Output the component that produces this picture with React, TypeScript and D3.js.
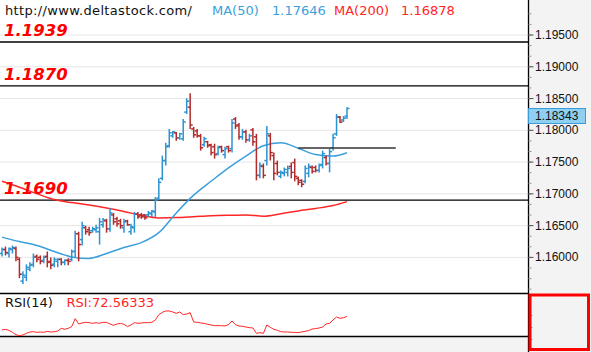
import React from 'react';
import * as d3 from 'd3';

// price bars: [open, high, low, close]
const bars: [number, number, number, number][] = [
  [1.16062, 1.16155, 1.16016, 1.16124], [1.16124, 1.16171, 1.16031, 1.16077],
  [1.16062, 1.16155, 1.16000, 1.16140], [1.16124, 1.16186, 1.16062, 1.16155],
  [1.16140, 1.16171, 1.15938, 1.16000], [1.15969, 1.16000, 1.15673, 1.15735],
  [1.15627, 1.15782, 1.15580, 1.15720], [1.15689, 1.15891, 1.15627, 1.15844],
  [1.15813, 1.15922, 1.15782, 1.15876], [1.15891, 1.16062, 1.15844, 1.16000],
  [1.16016, 1.16047, 1.15922, 1.15969], [1.16000, 1.16031, 1.15891, 1.15938],
  [1.15953, 1.16031, 1.15907, 1.16000], [1.16016, 1.16093, 1.15844, 1.15922],
  [1.15938, 1.16000, 1.15813, 1.15876], [1.15891, 1.16000, 1.15844, 1.15969],
  [1.15938, 1.15985, 1.15844, 1.15969], [1.15969, 1.15985, 1.15876, 1.15922],
  [1.15922, 1.15969, 1.15876, 1.15953], [1.15953, 1.15985, 1.15876, 1.15938],
  [1.15969, 1.16124, 1.15938, 1.16093], [1.16093, 1.16420, 1.16000, 1.16373],
  [1.16373, 1.16404, 1.15938, 1.16202], [1.16280, 1.16560, 1.16186, 1.16498],
  [1.16467, 1.16498, 1.16358, 1.16404], [1.16435, 1.16482, 1.16342, 1.16389],
  [1.16420, 1.16482, 1.16389, 1.16451], [1.16435, 1.16513, 1.16389, 1.16467],
  [1.16404, 1.16622, 1.16202, 1.16560], [1.16513, 1.16622, 1.16467, 1.16591],
  [1.16575, 1.16607, 1.16389, 1.16451], [1.16451, 1.16778, 1.16404, 1.16700],
  [1.16669, 1.16700, 1.16513, 1.16560], [1.16607, 1.16638, 1.16482, 1.16529],
  [1.16575, 1.16607, 1.16451, 1.16498], [1.16467, 1.16607, 1.16389, 1.16560],
  [1.16575, 1.16591, 1.16498, 1.16513], [1.16404, 1.16529, 1.16358, 1.16482],
  [1.16467, 1.16716, 1.16389, 1.16684], [1.16684, 1.16716, 1.16607, 1.16638],
  [1.16669, 1.16700, 1.16607, 1.16638], [1.16669, 1.16684, 1.16591, 1.16622],
  [1.16669, 1.16731, 1.16638, 1.16700], [1.16684, 1.16747, 1.16638, 1.16731],
  [1.16716, 1.16949, 1.16638, 1.16902], [1.16933, 1.17244, 1.16902, 1.17182],
  [1.17244, 1.17602, 1.17213, 1.17524], [1.17524, 1.17804, 1.17447, 1.17742],
  [1.17758, 1.18022, 1.17726, 1.17960], [1.17913, 1.17991, 1.17882, 1.17975],
  [1.17960, 1.17975, 1.17835, 1.17882], [1.17882, 1.17960, 1.17851, 1.17944],
  [1.17867, 1.18178, 1.17835, 1.18131], [1.18287, 1.18504, 1.18256, 1.18458],
  [1.18364, 1.18582, 1.18022, 1.18084], [1.18022, 1.18053, 1.17882, 1.17929],
  [1.17991, 1.18022, 1.17882, 1.17913], [1.17913, 1.17944, 1.17680, 1.17726],
  [1.17773, 1.17898, 1.17742, 1.17867], [1.17820, 1.17835, 1.17726, 1.17758],
  [1.17773, 1.17789, 1.17602, 1.17649], [1.17742, 1.17789, 1.17555, 1.17618],
  [1.17633, 1.17758, 1.17602, 1.17726], [1.17742, 1.17758, 1.17649, 1.17680],
  [1.17618, 1.17742, 1.17555, 1.17711], [1.17742, 1.17758, 1.17649, 1.17680],
  [1.17711, 1.18178, 1.17649, 1.18116], [1.18178, 1.18209, 1.18022, 1.18069],
  [1.18084, 1.18116, 1.17851, 1.17898], [1.17898, 1.18022, 1.17851, 1.17975],
  [1.17975, 1.18007, 1.17804, 1.17851], [1.17851, 1.17944, 1.17820, 1.17913],
  [1.18007, 1.18038, 1.17758, 1.17820], [1.17898, 1.17944, 1.17213, 1.17291],
  [1.17291, 1.17493, 1.17244, 1.17447], [1.17431, 1.17478, 1.17244, 1.17291],
  [1.17524, 1.18069, 1.17447, 1.17944], [1.17913, 1.17960, 1.17524, 1.17649],
  [1.17602, 1.17649, 1.17213, 1.17322], [1.17478, 1.17524, 1.17291, 1.17338],
  [1.17275, 1.17369, 1.17244, 1.17338], [1.17322, 1.17415, 1.17275, 1.17384],
  [1.17338, 1.17447, 1.17275, 1.17400], [1.17431, 1.17493, 1.17244, 1.17338],
  [1.17493, 1.17555, 1.17197, 1.17275], [1.17244, 1.17275, 1.17135, 1.17182],
  [1.17213, 1.17229, 1.17104, 1.17151], [1.17197, 1.17447, 1.17166, 1.17400],
  [1.17322, 1.17478, 1.17260, 1.17431], [1.17415, 1.17447, 1.17322, 1.17353],
  [1.17415, 1.17447, 1.17338, 1.17369], [1.17369, 1.17478, 1.17338, 1.17447],
  [1.17462, 1.17680, 1.17400, 1.17633], [1.17571, 1.17602, 1.17447, 1.17478],
  [1.17478, 1.17711, 1.17338, 1.17664], [1.17726, 1.17944, 1.17680, 1.17882],
  [1.17944, 1.18256, 1.17913, 1.18209], [1.18209, 1.18224, 1.18116, 1.18131],
  [1.18162, 1.18224, 1.18131, 1.18193], [1.18224, 1.18364, 1.18178, 1.18343],
];

// moving averages, read at every 5th bar
const maBars = [0, 5, 10, 15, 20, 25, 30, 35, 40, 45, 50, 55, 60, 65, 70, 75, 80, 85, 90, 95, 99];
const ma50 = [1.16319, 1.16249, 1.16187, 1.16093, 1.16008, 1.15984, 1.16062, 1.16156, 1.16233, 1.16389,
  1.16700, 1.16980, 1.17198, 1.17408, 1.17594, 1.17758, 1.17804, 1.17719, 1.17618, 1.17594, 1.17646];
const ma200 = [1.17198, 1.17104, 1.17003, 1.16910, 1.16863, 1.16824, 1.16778, 1.16723, 1.16661, 1.16622,
  1.16627, 1.16641, 1.16656, 1.16664, 1.16669, 1.16649, 1.16688, 1.16731, 1.16770, 1.16817, 1.16878];

// RSI(14), one value per bar
const rsi = [38.8, 40.4, 37.9, 32.9, 27.1, 24.6, 26.3, 30.4, 33.7, 34.6,
  32.9, 33.7, 32.9, 35.4, 33.7, 34.6, 36.2, 42.9, 40.4, 42.9,
  47.1, 67.1, 53.8, 56.3, 57.9, 57.1, 55.4, 57.1, 55.4, 57.9,
  57.9, 53.8, 50.4, 53.8, 55.4, 52.9, 47.1, 51.3, 57.1, 55.4,
  56.3, 57.1, 57.1, 57.9, 63.8, 77.1, 82.9, 86.3, 86.3, 83.8,
  80.4, 83.8, 77.1, 78.8, 82.1, 58.8, 57.9, 56.3, 55.4, 52.9,
  51.3, 49.6, 49.6, 49.6, 48.8, 52.1, 61.3, 52.1, 48.8, 47.9,
  46.3, 44.6, 43.8, 30.4, 32.1, 30.4, 51.3, 45.4, 40.4, 37.9,
  34.6, 33.8, 33.8, 32.9, 32.9, 32.1, 33.8, 35.4, 37.1, 41.3,
  42.1, 43.8, 46.3, 53.8, 55.4, 63.8, 71.3, 67.9, 69.6, 72.56333];

const levels = [1.1939, 1.187, 1.169];
const levelLabels = ['1.1939', '1.1870', '1.1690'];
const priceTicks = [1.195, 1.19, 1.185, 1.18, 1.175, 1.17, 1.165, 1.16];
const rsiTicks = [15, 45, 75];
const trend = { price: 1.1772, from: 85, to: 113 };

const W = 591;
const H = 352;
const AXIS_X = 528.5;
const RSI_TOP = 293.5;
const RSI_BOTTOM = 336.5;

const UP = '#2b93d1';
const DOWN = '#b22a2a';
const MA50_COLOR = '#3b9fdc';
const MA_RED = '#ff2626';

export default function App() {
  const x = d3.scaleLinear().domain([0, bars.length - 1]).range([2, 347]);
  const y = d3.scaleLinear().domain([1.16, 1.195]).range([257.4, 35]);
  const ry = d3.scaleLinear().domain([20, 130]).range([337.5, 293.5]);

  const maLine = d3.line<[number, number]>()
    .x(d => x(d[0]))
    .y(d => y(d[1]))
    .curve(d3.curveMonotoneX);
  const ma50Path = maLine(maBars.map((b, i) => [b, ma50[i]] as [number, number])) || '';
  const ma200Path = maLine(maBars.map((b, i) => [b, ma200[i]] as [number, number])) || '';

  const rsiPath = d3.line<number>()
    .x((_, i) => x(i))
    .y(d => ry(d))(rsi) || '';

  const minorTicks = d3.range(1.155, 1.1999, 0.005 / 3);
  const last = bars[bars.length - 1][3];
  const lastY = y(last);

  const font = 'DejaVu Sans, Verdana, sans-serif';

  return (
    <svg width={W} height={H} style={{ position: 'absolute', left: 0, top: 0, background: '#fff' }}>
      <rect x={AXIS_X} y={0} width={W - AXIS_X} height={H} fill="#f3f3f3" />
      <rect x={0} y={RSI_BOTTOM} width={AXIS_X} height={H - RSI_BOTTOM} fill="#f3f3f3" />

      {/* grid */}
      {priceTicks.map(t => (
        <line key={t} x1={0} x2={AXIS_X} y1={y(t)} y2={y(t)} stroke="#e6e6e6" strokeWidth={1} />
      ))}

      {/* level lines */}
      {levels.map(l => (
        <line key={l} x1={0} x2={AXIS_X} y1={y(l)} y2={y(l)} stroke="#000" strokeWidth={1.3} />
      ))}

      <path d={ma200Path} fill="none" stroke={MA_RED} strokeWidth={1.5} />
      <path d={ma50Path} fill="none" stroke={MA50_COLOR} strokeWidth={1.5} />

      {/* OHLC bars */}
      {bars.map(([o, h, l, c], i) => {
        const cx = x(i);
        const col = c >= o ? UP : DOWN;
        return (
          <g key={i} stroke={col} strokeWidth={1.5}>
            <line x1={cx} x2={cx} y1={y(h)} y2={y(l)} />
            <line x1={cx - 2.5} x2={cx} y1={y(o)} y2={y(o)} />
            <line x1={cx} x2={cx + 2.5} y1={y(c)} y2={y(c)} />
          </g>
        );
      })}

      <line x1={x(trend.from)} x2={x(trend.to)} y1={y(trend.price)} y2={y(trend.price)}
        stroke="#333" strokeWidth={1.5} />

      {levelLabels.map((t, i) => (
        <text key={t} x={4} y={y(levels[i]) - 6} fill="#ff0000" fontFamily={font}
          fontWeight="bold" fontStyle="italic" fontSize={16.5}>{t}</text>
      ))}

      {/* header */}
      <g fontFamily={font} fontSize={13}>
        <text x={5} y={14.5} fill="#111" textLength={187} lengthAdjust="spacing">http://www.deltastock.com/</text>
        <text x={212} y={14.5} fill={MA50_COLOR}>MA(50)</text>
        <text x={272} y={14.5} fill={MA50_COLOR}>{ma50[ma50.length - 1].toFixed(5)}</text>
        <text x={334} y={14.5} fill={MA_RED}>MA(200)</text>
        <text x={401} y={14.5} fill={MA_RED}>{ma200[ma200.length - 1].toFixed(5)}</text>
      </g>

      {/* RSI panel */}
      <line x1={0} x2={AXIS_X} y1={RSI_TOP} y2={RSI_TOP} stroke="#000" strokeWidth={1.3} />
      <line x1={0} x2={AXIS_X} y1={RSI_BOTTOM} y2={RSI_BOTTOM} stroke="#000" strokeWidth={1.3} />
      <path d={rsiPath} fill="none" stroke={MA_RED} strokeWidth={1} />
      <g fontFamily={font} fontSize={13}>
        <text x={5} y={306.5} fill="#111">RSI(14)</text>
        <text x={66.5} y={306.5} fill={MA_RED}>RSI:{rsi[rsi.length - 1].toFixed(5)}</text>
      </g>

      {/* price axis */}
      <line x1={AXIS_X} x2={AXIS_X} y1={0} y2={H} stroke="#000" strokeWidth={1.3} />
      {minorTicks.map((t, i) => (
        <line key={i} x1={AXIS_X} x2={AXIS_X + 3} y1={y(t)} y2={y(t)} stroke="#999" strokeWidth={1} />
      ))}
      {priceTicks.map(t => (
        <g key={t}>
          <line x1={AXIS_X} x2={AXIS_X + 5} y1={y(t)} y2={y(t)} stroke="#555" strokeWidth={1} />
          <text x={535} y={y(t) + 4} fontFamily="Liberation Sans, Arial, sans-serif" fontSize={12} fill="#111">
            {t.toFixed(5)}
          </text>
        </g>
      ))}
      <rect x={528.5} y={lastY} width={57} height={15} fill="#8fd0f0" stroke="#3a9ad9" strokeWidth={1} />
      <text x={535} y={lastY + 11.5} fontFamily="Liberation Sans, Arial, sans-serif" fontSize={12} fill="#111">
        {last.toFixed(5)}
      </text>

      {/* RSI axis */}
      {rsiTicks.map(t => (
        <line key={t} x1={AXIS_X + 1} x2={AXIS_X + 4} y1={ry(t)} y2={ry(t)} stroke="#999" strokeWidth={1} />
      ))}
      <rect x={530} y={295} width={58.5} height={54.5} fill="none" stroke="#ff0000" strokeWidth={3} />
    </svg>
  );
}
